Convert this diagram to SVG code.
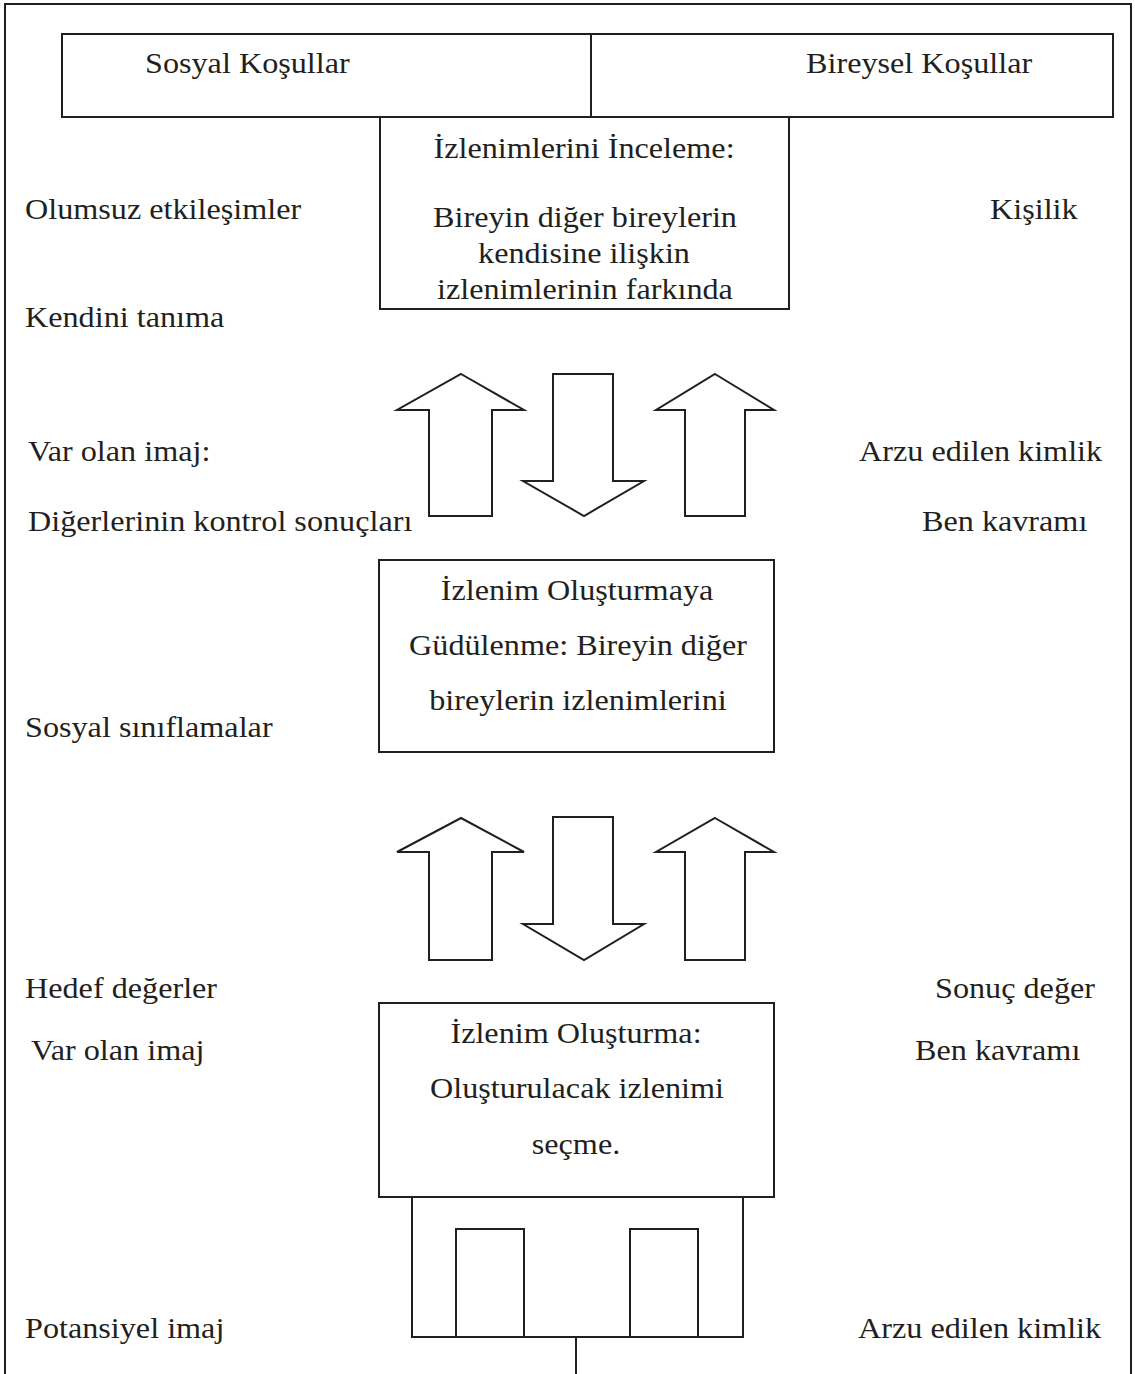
<svg xmlns="http://www.w3.org/2000/svg" width="1135" height="1374" viewBox="0 0 1135 1374">
<style>
.s{fill:#ffffff;stroke:#231f20;stroke-width:2}
.l{fill:none;stroke:#231f20;stroke-width:2}
.t{font-family:"Liberation Serif","Times New Roman",serif;font-size:28.5px;fill:#231f20}
.m{text-anchor:middle}
</style>
<rect x="0" y="0" width="1135" height="1374" fill="#ffffff"/>
<path class="l" d="M5,1374 V4 H1131 V1374"/>

<g id="conditions">
<rect class="s" x="62" y="34" width="1051" height="83"/>
<line class="l" x1="591" y1="34" x2="591" y2="117"/>
<text class="t" transform="translate(145,73) scale(1.13,1)">Sosyal Koşullar</text>
<text class="t" transform="translate(806,73) scale(1.13,1)">Bireysel Koşullar</text>
</g>

<g id="inceleme">
<rect class="s" x="380" y="117" width="409" height="192"/>
<text class="t m" transform="translate(584,158) scale(1.13,1)">İzlenimlerini İnceleme:</text>
<text class="t m" transform="translate(585,227) scale(1.13,1)">Bireyin diğer bireylerin</text>
<text class="t m" transform="translate(584,263) scale(1.13,1)">kendisine ilişkin</text>
<text class="t m" transform="translate(585,299) scale(1.13,1)">izlenimlerinin farkında</text>
</g>

<g id="gudulenme">
<rect class="s" x="379" y="560" width="395" height="192"/>
<text class="t m" transform="translate(577,600) scale(1.13,1)">İzlenim Oluşturmaya</text>
<text class="t m" transform="translate(578,655) scale(1.13,1)">Güdülenme: Bireyin diğer</text>
<text class="t m" transform="translate(578,710) scale(1.13,1)">bireylerin izlenimlerini</text>
</g>

<g id="olusturma">
<rect class="s" x="379" y="1003" width="395" height="194"/>
<text class="t m" transform="translate(576,1043) scale(1.13,1)">İzlenim Oluşturma:</text>
<text class="t m" transform="translate(577,1098) scale(1.13,1)">Oluşturulacak izlenimi</text>
<text class="t m" transform="translate(576,1154) scale(1.13,1)">seçme.</text>
</g>

<g id="base">
<path class="l" d="M412,1197 V1337 H743 V1197"/>
<rect class="s" x="456" y="1229" width="68" height="108"/>
<rect class="s" x="630" y="1229" width="68" height="108"/>
<line class="l" x1="576" y1="1337" x2="576" y2="1374"/>
</g>

<g id="connectors">
<polygon class="s" points="461,374 524,410 492,410 492,516 429,516 429,410 397,410"/>
<polygon class="s" points="553,374 613,374 613,481 644,481 584,516 523,481 553,481"/>
<polygon class="s" points="715,374 774,410 745,410 745,516 685,516 685,410 656,410"/>
<polygon class="s" points="461,818 524,852 492,852 492,960 429,960 429,852 397,852"/>
<polygon class="s" points="553,817 613,817 613,924 644,924 584,960 523,924 553,924"/>
<polygon class="s" points="715,818 774,852 745,852 745,960 685,960 685,852 656,852"/>
</g>

<g id="labels-left">
<text class="t" transform="translate(25,219) scale(1.13,1)">Olumsuz etkileşimler</text>
<text class="t" transform="translate(25,327) scale(1.13,1)">Kendini tanıma</text>
<text class="t" transform="translate(28,461) scale(1.13,1)">Var olan imaj:</text>
<text class="t" transform="translate(28,531) scale(1.13,1)">Diğerlerinin kontrol sonuçları</text>
<text class="t" transform="translate(25,737) scale(1.13,1)">Sosyal sınıflamalar</text>
<text class="t" transform="translate(25,998) scale(1.13,1)">Hedef değerler</text>
<text class="t" transform="translate(31,1060) scale(1.13,1)">Var olan imaj</text>
<text class="t" transform="translate(25,1338) scale(1.13,1)">Potansiyel imaj</text>
</g>

<g id="labels-right">
<text class="t" transform="translate(990,219) scale(1.13,1)">Kişilik</text>
<text class="t" transform="translate(859,461) scale(1.13,1)">Arzu edilen kimlik</text>
<text class="t" transform="translate(922,531) scale(1.13,1)">Ben kavramı</text>
<text class="t" transform="translate(935,998) scale(1.13,1)">Sonuç değer</text>
<text class="t" transform="translate(915,1060) scale(1.13,1)">Ben kavramı</text>
<text class="t" transform="translate(858,1338) scale(1.13,1)">Arzu edilen kimlik</text>
</g>
</svg>
